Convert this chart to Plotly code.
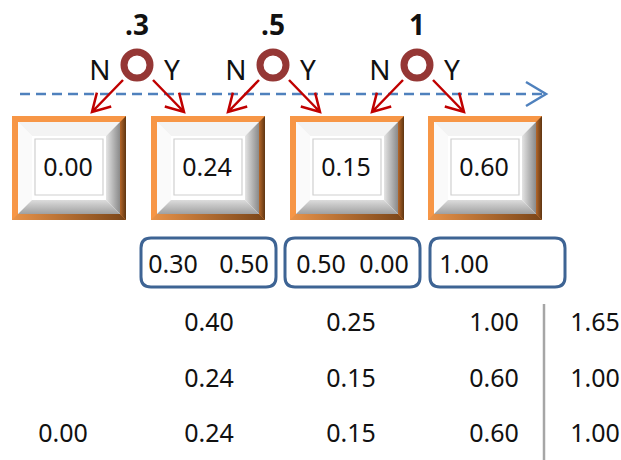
import math
import plotly.graph_objects as go

# ---------------- data ----------------
probs = [".3", ".5", "1"]
branch_labels = ["N", "Y"]
box_values = [0.00, 0.24, 0.15, 0.60]
pair_values = [[0.30, 0.50], [0.50, 0.00], [1.00]]
row1 = [None, 0.40, 0.25, 1.00, 1.65]
row2 = [None, 0.24, 0.15, 0.60, 1.00]
row3 = [0.00, 0.24, 0.15, 0.60, 1.00]

# ---------------- layout constants ----------------
W, H = 621, 460
FONT = "Noto Sans"
TXT = "#111111"
node_x = [137, 273, 417]
node_y = 65
box_x0 = [12, 151, 290, 428]
box_w, box_y0, box_h = 114, 116, 104
pair_boxes = [(141, 276), (285, 420), (430, 565)]
pair_text_x = [[173, 244], [321, 384], [464]]
table_x = [63, 209, 351, 494, 595]
table_y = [322, 378, 433]

fig = go.Figure()
shapes = []


def poly_path(pts):
    return "M " + " L ".join(f"{x},{y}" for x, y in pts) + " Z"


def grad_poly(pts, c0, c1, orient, start, stop):
    xs = [p[0] for p in pts] + [pts[0][0]]
    ys = [p[1] for p in pts] + [pts[0][1]]
    fig.add_trace(go.Scatter(
        x=xs, y=ys, mode="lines", line=dict(width=0), fill="toself",
        fillgradient=dict(type=orient, colorscale=[[0, c0], [1, c1]],
                          start=start, stop=stop),
        hoverinfo="skip", showlegend=False))


def arrow_path(x0, y0, x1, y1, head=20, ang=30):
    a = math.atan2(y0 - y1, x0 - x1)
    r = math.radians(ang)
    h1 = (x1 + head * math.cos(a + r), y1 + head * math.sin(a + r))
    h2 = (x1 + head * math.cos(a - r), y1 + head * math.sin(a - r))
    return (f"M {x0},{y0} L {x1},{y1} M {h1[0]:.1f},{h1[1]:.1f} "
            f"L {x1},{y1} L {h2[0]:.1f},{h2[1]:.1f}")


def rounded_rect(x0, y0, x1, y1, r=10):
    return (f"M {x0+r},{y0} L {x1-r},{y0} Q {x1},{y0} {x1},{y0+r} "
            f"L {x1},{y1-r} Q {x1},{y1} {x1-r},{y1} L {x0+r},{y1} "
            f"Q {x0},{y1} {x0},{y1-r} L {x0},{y0+r} Q {x0},{y0} {x0+r},{y0} Z")


# ---------------- beveled boxes ----------------
f, b, ins = 6, 20, 23
for x0 in box_x0:
    x1 = x0 + box_w
    y0, y1 = box_y0, box_y0 + box_h
    shapes.append(dict(type="rect", x0=x0, x1=x1, y0=y0, y1=y1,
                       fillcolor="#F79646", line=dict(width=0), layer="below"))
    shapes.append(dict(type="rect", x0=x0 + f, x1=x1 - f, y0=y0 + f, y1=y1 - f,
                       fillcolor="#FFFFFF", line=dict(width=0), layer="below"))
    grad_poly([(x1 - f, y0 + f), (x1, y0), (x1, y1), (x1 - f, y1 - f)],
              "#B5672A", "#5E3511", "horizontal", x1 - f, x1)
    grad_poly([(x0, y1), (x1, y1), (x1 - f, y1 - f), (x0 + f, y1 - f)],
              "#E8934A", "#7A4518", "horizontal", x0, x1)
    shapes.append(dict(type="path", path=poly_path(
        [(x0 + f, y0 + f), (x1 - f, y0 + f), (x1 - b, y0 + b), (x0 + b, y0 + b)]),
        fillcolor="#F3F3F3", line=dict(width=0), layer="below"))
    shapes.append(dict(type="path", path=poly_path(
        [(x0 + f, y0 + f), (x0 + b, y0 + b), (x0 + b, y1 - b), (x0 + f, y1 - f)]),
        fillcolor="#FAFAFA", line=dict(width=0), layer="below"))
    grad_poly([(x1 - f, y0 + f), (x1 - f, y1 - f), (x1 - b, y1 - b), (x1 - b, y0 + b)],
              "#E4E4E4", "#8A8A8A", "horizontal", x1 - b, x1 - f)
    grad_poly([(x0 + f, y1 - f), (x1 - f, y1 - f), (x1 - b, y1 - b), (x0 + b, y1 - b)],
              "#DCDCDC", "#A0A0A0", "vertical", y1 - b, y1 - f)
    shapes.append(dict(type="rect", x0=x0 + ins, x1=x1 - ins, y0=y0 + ins,
                       y1=y1 - ins - 2, fillcolor="rgba(0,0,0,0)",
                       line=dict(color="#D0D0D0", width=1.2), layer="above"))

# ---------------- dashed timeline ----------------
shapes.append(dict(type="line", x0=20, x1=545, y0=94, y1=94,
                   line=dict(color="#4F81BD", width=2.5, dash="10px,6px"),
                   layer="above"))
shapes.append(dict(type="path", path="M 526,82 L 546,94 L 526,106",
                   line=dict(color="#4F81BD", width=2.5), layer="above"))

# ---------------- nodes and arrows ----------------
for cx in node_x:
    shapes.append(dict(type="circle", x0=cx - 13, x1=cx + 13,
                       y0=node_y - 13, y1=node_y + 13,
                       line=dict(color="#953735", width=7),
                       fillcolor="rgba(0,0,0,0)", layer="above"))
    shapes.append(dict(type="path", path=arrow_path(cx - 14, 80, cx - 45, 112),
                       line=dict(color="#C00000", width=2.5), layer="above"))
    shapes.append(dict(type="path", path=arrow_path(cx + 16, 80, cx + 47, 112),
                       line=dict(color="#C00000", width=2.5), layer="above"))

# ---------------- rounded boxes ----------------
for (a, c) in pair_boxes:
    shapes.append(dict(type="path", path=rounded_rect(a, 238, c, 287, 10),
                       line=dict(color="#3E6494", width=3),
                       fillcolor="rgba(0,0,0,0)", layer="above"))

shapes.append(dict(type="line", x0=544, x1=544, y0=304, y1=460,
                   line=dict(color="#A6A6A6", width=2.5), layer="above"))

# ---------------- texts ----------------
DY = 3  # small baseline compensation
fig.add_trace(go.Scatter(
    x=node_x, y=[25 + DY] * 3, text=probs, mode="text",
    textfont=dict(family=FONT, size=28, color=TXT, weight="bold"),
    hoverinfo="skip", showlegend=False))
fig.add_trace(go.Scatter(
    x=[cx - 37 for cx in node_x] + [cx + 35 for cx in node_x],
    y=[70 + DY] * 6,
    text=[branch_labels[0]] * 3 + [branch_labels[1]] * 3, mode="text",
    textfont=dict(family=FONT, size=28, color=TXT),
    hoverinfo="skip", showlegend=False))
fig.add_trace(go.Scatter(
    x=[x0 + box_w / 2 - 1 for x0 in box_x0], y=[167 + DY] * 4,
    text=[f"{v:.2f}" for v in box_values], mode="text",
    textfont=dict(family=FONT, size=25, color=TXT),
    hoverinfo="skip", showlegend=False))
px, py, pt = [], [], []
for xs, vals in zip(pair_text_x, pair_values):
    for x, v in zip(xs, vals):
        px.append(x); py.append(264 + DY); pt.append(f"{v:.2f}")
fig.add_trace(go.Scatter(
    x=px, y=py, text=pt, mode="text",
    textfont=dict(family=FONT, size=25, color=TXT),
    hoverinfo="skip", showlegend=False))
tx, ty, tt = [], [], []
for yy, row in zip(table_y, [row1, row2, row3]):
    for xx, v in zip(table_x, row):
        if v is not None:
            tx.append(xx); ty.append(yy + DY); tt.append(f"{v:.2f}")
fig.add_trace(go.Scatter(
    x=tx, y=ty, text=tt, mode="text",
    textfont=dict(family=FONT, size=25, color=TXT),
    hoverinfo="skip", showlegend=False))

fig.update_layout(
    width=W, height=H, margin=dict(l=0, r=0, t=0, b=0),
    paper_bgcolor="white", plot_bgcolor="white",
    xaxis=dict(range=[0, W], visible=False, fixedrange=True),
    yaxis=dict(range=[H, 0], visible=False, fixedrange=True),
    shapes=shapes, showlegend=False,
)
fig.write_html("out.html", config={"displayModeBar": False},
               post_script="document.body.style.margin='0';"
                           "document.body.style.overflow='hidden';")
